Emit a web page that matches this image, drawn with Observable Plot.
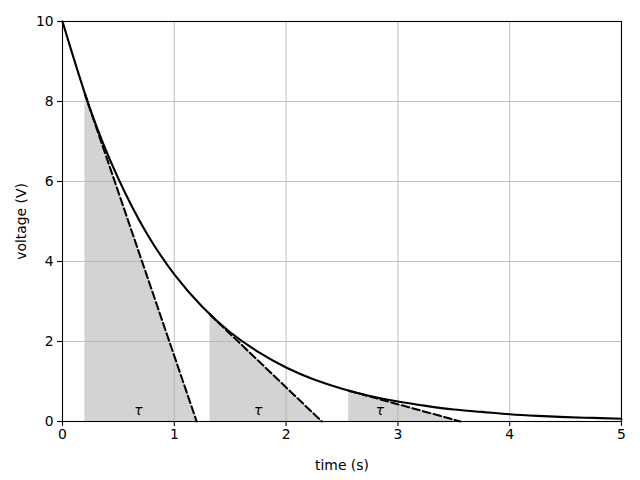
<!DOCTYPE html>
<html>
<head>
<meta charset="utf-8">
<script src="https://cdn.jsdelivr.net/npm/d3@7"></script>
<script src="https://cdn.jsdelivr.net/npm/@observablehq/plot@0.6"></script>
<style>
  html, body { margin: 0; padding: 0; background: #fff; }
</style>
</head>
<body>
<div id="chart"></div>
<script>
// Exponential decay curve
const times    = [0, 0.25, 0.5, 0.75, 1, 1.25, 1.5, 1.75, 2, 2.25, 2.5, 2.75, 3, 3.25, 3.5, 3.75, 4, 4.25, 4.5, 4.75, 5];
const voltages = [10, 7.79, 6.07, 4.72, 3.68, 2.87, 2.23, 1.74, 1.35, 1.05, 0.82, 0.64, 0.50, 0.39, 0.30, 0.24, 0.18, 0.14, 0.11, 0.09, 0.07];

// Tangent triangles (start time, voltage at start, end time where tangent hits 0)
const tangentStartT = [0.2, 1.32, 2.56];
const tangentStartV = [8.19, 2.67, 0.77];
const tangentEndT   = [1.2, 2.32, 3.56];

// τ labels
const labelT = [0.68, 1.75, 2.84];
const labelV = [0.27, 0.27, 0.27];
const labelText = ["τ", "τ", "τ"];

const xTicks = [0, 1, 2, 3, 4, 5];
const yTicks = [0, 2, 4, 6, 8, 10];

const curve = times.map((t, i) => ({t, v: voltages[i]}));
const tri = [];
tangentStartT.forEach((t0, i) => {
  tri.push({k: i, t: t0, v: tangentStartV[i]});
  tri.push({k: i, t: tangentEndT[i], v: 0});
});
const labels = labelT.map((t, i) => ({t, v: labelV[i], s: labelText[i]}));

const chart = Plot.plot({
  width: 640,
  height: 480,
  marginLeft: 62,
  marginRight: 19,
  marginTop: 21,
  marginBottom: 59,
  style: {fontSize: "13.9px", fontFamily: "DejaVu Sans", background: "#fff", color: "#000"},
  x: {domain: [0, 5]},
  y: {domain: [0, 10]},
  marks: [
    Plot.areaY(tri, {x: "t", y: "v", z: "k", fill: "#d3d3d3"}),
    Plot.gridX(xTicks, {stroke: "#b0b0b0", strokeOpacity: 1, strokeWidth: 0.8}),
    Plot.gridY(yTicks, {stroke: "#b0b0b0", strokeOpacity: 1, strokeWidth: 0.8}),
    Plot.line(tri, {x: "t", y: "v", z: "k", stroke: "#000", strokeWidth: 2.08, strokeDasharray: "7.7,3.3"}),
    Plot.line(curve, {x: "t", y: "v", stroke: "#000", strokeWidth: 2.08, curve: "natural"}),
    Plot.text(labels, {x: "t", y: "v", text: "s", fontSize: 13.9, fontStyle: "oblique 6deg", fill: "#000", fontFamily: "DejaVu Sans"}),
    Plot.frame({stroke: "#000", strokeWidth: 1.1}),
    Plot.axisX({ticks: xTicks, tickSize: 4.9, tickPadding: 3, tickFormat: d3.format("d"),
      label: "time (s)", labelAnchor: "center", labelArrow: "none", labelOffset: 48, strokeWidth: 1.1}),
    Plot.axisY({ticks: yTicks, tickSize: 4.9, tickPadding: 4, tickFormat: d3.format("d"),
      label: "voltage (V)", labelAnchor: "center", labelArrow: "none", labelOffset: 46, strokeWidth: 1.1})
  ]
});
document.getElementById("chart").appendChild(chart);
</script>
</body>
</html>
